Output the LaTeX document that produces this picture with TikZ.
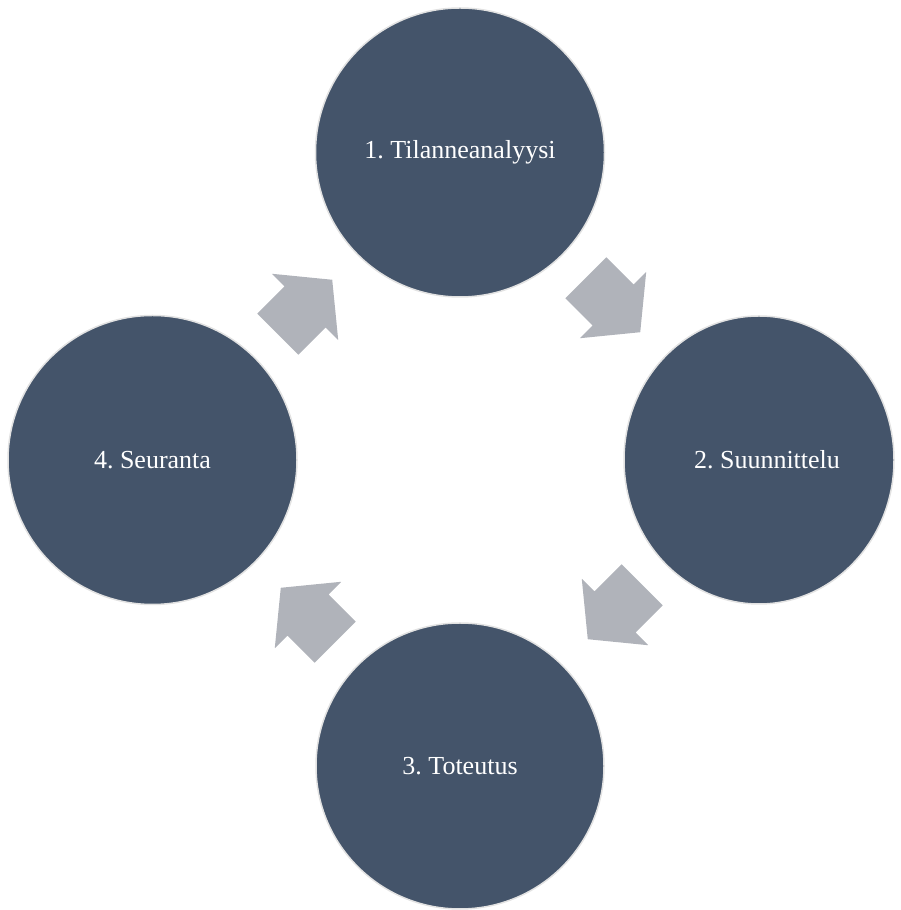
\documentclass[tikz,border=0pt]{standalone}
\usepackage{fontspec}
\setmainfont{Liberation Serif}
\usetikzlibrary{shapes.geometric}
\definecolor{circfill}{HTML}{44546A}
\definecolor{arrfill}{HTML}{B0B3BA}
\definecolor{circline}{HTML}{E2E2E2}
\begin{document}
\frenchspacing
\begin{tikzpicture}[x=1pt,y=1pt,
  stage/.style={ellipse, fill=circfill, draw=circline, line width=1.5pt, inner sep=0pt},
  stagetext/.style={text=white, font=\fontsize{26}{30}\selectfont},
  blockarrow/.pic={\fill[arrfill] (-38.5,-29) -- (0,-29) -- (0,-47) -- (38.5,0) -- (0,47) -- (0,29) -- (-38.5,29) -- cycle;}
]
\useasboundingbox (0,0) rectangle (901,910);
\clip (0,0) rectangle (901,910);
\node[stage, minimum width=289pt, minimum height=289pt] (c1) at (460,757.5) {};
\node[stage, minimum width=270pt, minimum height=288pt] (c2) at (759,450) {};
\node[stage, minimum width=288pt, minimum height=286pt] (c3) at (460,144) {};
\node[stage, minimum width=289pt, minimum height=289pt] (c4) at (152.5,450) {};
\node[stagetext] (t1) at (c1.center) {1. Tilanneanalyysi};
\node[stagetext] (t2) at ([xshift=8pt]c2.center) {2. Suunnittelu};
\node[stagetext] (t3) at (c3.center) {3. Toteutus};
\node[stagetext] (t4) at (c4.center) {4. Seuranta};
\pic[rotate=-45] at (613,605) {blockarrow};
\pic[rotate=-135] at (615,298) {blockarrow};
\pic[rotate=135] at (308,295) {blockarrow};
\pic[rotate=45] at (305,603) {blockarrow};
\end{tikzpicture}
\end{document}
